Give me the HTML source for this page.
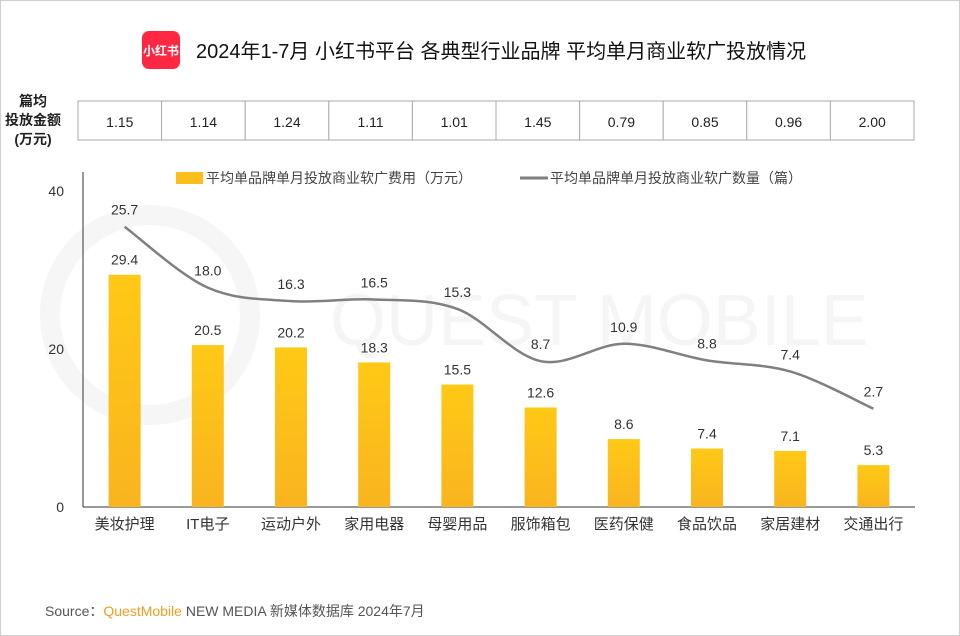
<!DOCTYPE html>
<html><head><meta charset="utf-8">
<style>
body{margin:0;background:#fff;}
#wrap{position:relative;width:960px;height:636px;overflow:hidden;font-family:"Liberation Sans","Noto Sans CJK SC",sans-serif;}
</style></head>
<body>
<div id="wrap">
<svg id="svg" width="960" height="636" xmlns="http://www.w3.org/2000/svg" font-family="Liberation Sans, Noto Sans CJK SC, sans-serif">
<defs>
<linearGradient id="bg" x1="0" y1="0" x2="0" y2="1"><stop offset="0" stop-color="#ffc916"/><stop offset="1" stop-color="#f9b41f"/></linearGradient>
</defs>
<rect x="0.5" y="0.5" width="959" height="635" fill="#fff" stroke="#cfcfcf"/>
<g fill="none" stroke="#f6f6f6">
<circle cx="150" cy="315" r="100" stroke-width="20"/>
<text x="330" y="345" font-size="72" fill="#f5f5f5" stroke="none">QUEST MOBILE</text>
</g>
<g>
<rect x="142" y="31" width="38" height="38" rx="7" fill="#ff2741"/>
<text x="161" y="55" font-size="12" fill="#fff" text-anchor="middle" font-weight="bold">小红书</text>
<text x="196" y="58" font-size="20" fill="#111">2024年1-7月 小红书平台 各典型行业品牌 平均单月商业软广投放情况</text>
</g>
<g font-size="14" font-weight="bold" fill="#222" text-anchor="middle">
<text x="33" y="106">篇均</text><text x="33" y="125">投放金额</text><text x="33" y="144">(万元)</text>
</g>
<g id="table"></g>
<g id="legend">
<rect x="176" y="172" width="27" height="12" fill="#fbbf1c"/>
<text x="206" y="183" font-size="14" fill="#444">平均单品牌单月投放商业软广费用（万元）</text>
<line x1="520" y1="178" x2="548" y2="178" stroke="#7f7f7f" stroke-width="3"/>
<text x="550" y="183" font-size="14" fill="#444">平均单品牌单月投放商业软广数量（篇）</text>
</g>
<g id="axes"></g>
<g id="bars"></g>
<g id="line"></g>
<g font-size="14">
<text x="45" y="616" fill="#555">Source：<tspan fill="#f39c1f">QuestMobile</tspan> NEW MEDIA 新媒体数据库 2024年7月</text>
</g>
</svg>
</div>
<script>
const categories=["美妆护理","IT电子","运动户外","家用电器","母婴用品","服饰箱包","医药保健","食品饮品","家居建材","交通出行"];
const costValues=[29.4,20.5,20.2,18.3,15.5,12.6,8.6,7.4,7.1,5.3];
const countValues=[25.7,18.0,16.3,16.5,15.3,8.7,10.9,8.8,7.4,2.7];
const avgAmounts=["1.15","1.14","1.24","1.11","1.01","1.45","0.79","0.85","0.96","2.00"];
const yTicks=[0,20,40];

const NS="http://www.w3.org/2000/svg";
const x0=83,x1=915,band=(x1-x0)/categories.length;
const xc=i=>x0+band*(i+0.5);
const yL=v=>507-v*7.9;
const yR=v=>430-v*7.91;
function mk(p,tag,attrs,txt){const e=document.createElementNS(NS,tag);for(const k in attrs)e.setAttribute(k,attrs[k]);if(txt!=null)e.textContent=txt;p.appendChild(e);return e;}

const axes=document.getElementById('axes');
const ya=mk(axes,'line',{x1:x0,y1:172,x2:x0,y2:507,stroke:'#333'});


const xa=mk(axes,'line',{x1:x0,y1:507,x2:x1,y2:507,stroke:'#333'});


yTicks.forEach(t=>{const e=mk(axes,'text',{x:64,y:yL(t)+5,'font-size':14,fill:'#333','text-anchor':'end'},t);

});
categories.forEach((c,i)=>{const e=mk(axes,'text',{x:xc(i),y:529,'font-size':15,fill:'#333','text-anchor':'middle'},c);

});

const tb=document.getElementById('table');
const tx0=78,tx1=914,tw=(tx1-tx0)/avgAmounts.length;
avgAmounts.forEach((v,i)=>{const r=mk(tb,'rect',{x:tx0+i*tw,y:101,width:tw,height:39,fill:'#fff',stroke:'#aaa'});


const t=mk(tb,'text',{x:tx0+(i+0.5)*tw,y:127,'font-size':14,fill:'#222','text-anchor':'middle'},v);

});

const bars=document.getElementById('bars');
costValues.forEach((v,i)=>{const r=mk(bars,'rect',{x:xc(i)-16,y:yL(v),width:32,height:507-yL(v),fill:'url(#bg)'});


const t=mk(bars,'text',{x:xc(i),y:yL(v)-10,'font-size':14,fill:'#333','text-anchor':'middle'},v.toFixed(1));

});

const lg=document.getElementById('line');
const pts=countValues.map((v,i)=>[xc(i),yR(v)]);
let d='M'+pts[0][0]+','+pts[0][1];
for(let i=0;i<pts.length-1;i++){const p0=pts[Math.max(0,i-1)],p1=pts[i],p2=pts[i+1],p3=pts[Math.min(pts.length-1,i+2)];
const c1=[p1[0]+(p2[0]-p0[0])/6,p1[1]+(p2[1]-p0[1])/6],c2=[p2[0]-(p3[0]-p1[0])/6,p2[1]-(p3[1]-p1[1])/6];
d+=` C${c1[0]},${c1[1]} ${c2[0]},${c2[1]} ${p2[0]},${p2[1]}`;}
const path=mk(lg,'path',{d:d,fill:'none',stroke:'#808080','stroke-width':2.5});


countValues.forEach((v,i)=>{const t=mk(lg,'text',{x:xc(i),y:yR(v)-12,'font-size':14,fill:'#333','text-anchor':'middle'},v.toFixed(1));

});
</script>
</body></html>
